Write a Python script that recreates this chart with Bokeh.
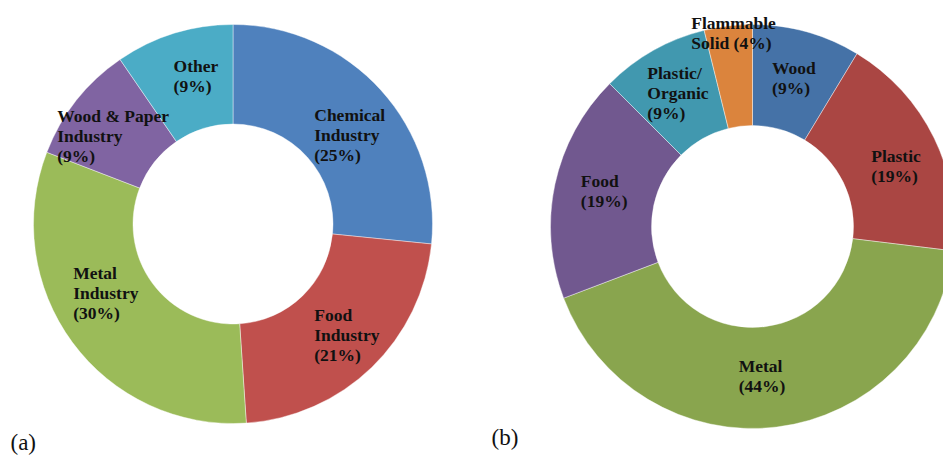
import math
from bokeh.plotting import figure
from bokeh.models import ColumnDataSource, Range1d
from bokeh.core.properties import value
from bokeh.embed import file_html
from bokeh.resources import INLINE

# ---- data ----
cats_a = ["Chemical\nIndustry", "Food\nIndustry", "Metal\nIndustry", "Wood & Paper\nIndustry", "Other"]
vals_a = [25, 21, 30, 9, 9]
colors_a = ["#4F81BD", "#C0504D", "#9BBB59", "#8064A2", "#4BACC6"]

cats_b = ["Wood", "Plastic", "Metal", "Food", "Plastic/\nOrganic", "Flammable\nSolid"]
vals_b = [9, 19, 44, 19, 9, 4]
colors_b = ["#4572A7", "#AA4643", "#89A54E", "#71588F", "#4198AF", "#DB843D"]
inline_pct_b = [False, False, False, False, False, True]

panel_labels = ["(a)", "(b)"]

# ---- layout (pixels) ----
W, H = 943, 455
FONT = value("Liberation Serif")

p = figure(width=W, height=H, output_backend="svg", toolbar_location=None,
           x_range=Range1d(0, W), y_range=Range1d(0, H), min_border=0)
p.axis.visible = False
p.grid.visible = False
p.outline_line_color = None
p.background_fill_color = "white"
p.border_fill_color = "white"


def donut(cx, cy, r_in, r_out, cats, vals, colors, r_lab, nudges, inline_pct=None):
    total = float(sum(vals))
    starts, ends, lx, ly, texts = [], [], [], [], []
    cum = 0.0
    for i, (c, v) in enumerate(zip(cats, vals)):
        f0 = cum / total
        cum += v
        f1 = cum / total
        starts.append(math.pi / 2 - 2 * math.pi * f0)
        ends.append(math.pi / 2 - 2 * math.pi * f1)
        mid = 2 * math.pi * (f0 + f1) / 2
        lx.append(cx + r_lab * math.sin(mid))
        ly.append(cy + r_lab * math.cos(mid))
        sep = " " if (inline_pct and inline_pct[i]) else "\n"
        texts.append(f"{c}{sep}({v}%)")
    src = ColumnDataSource(dict(start=starts, end=ends, color=colors,
                                lx=lx, ly=ly, text=texts,
                                dx=[n[0] for n in nudges], dy=[n[1] for n in nudges]))
    p.annular_wedge(x=cx, y=cy, inner_radius=r_in, outer_radius=r_out,
                    start_angle="start", end_angle="end", direction="clock",
                    fill_color="color", line_color="white", line_width=0.6,
                    line_alpha=0.7, source=src)
    p.text(x="lx", y="ly", text="text", x_offset="dx", y_offset="dy", source=src,
           text_font=FONT, text_font_style="bold", text_font_size="17.5px",
           text_line_height=1.0, text_align="left", text_baseline="middle",
           text_color="#111111")


# panel (a)
donut(232.5, 231.5, 100, 199.5, cats_a, vals_a, colors_a, 150,
      [(-30, 12), (-23, 3), (-39, -20), (-58, 5), (-15, -5)])
# panel (b)
donut(752, 229, 101, 202, cats_b, vals_b, colors_b, 151,
      [(-21, -3), (-17, 6), (-32, 0), (-24, -4), (-31, -2), (-43, -44)],
      inline_pct_b)

p.text(x=[10, 491], y=[1, 6], text=panel_labels, text_font=FONT,
       text_font_size="23px", text_align="left", text_baseline="bottom",
       text_color="#111111")

open("out.html", "w").write(file_html(p, INLINE))
